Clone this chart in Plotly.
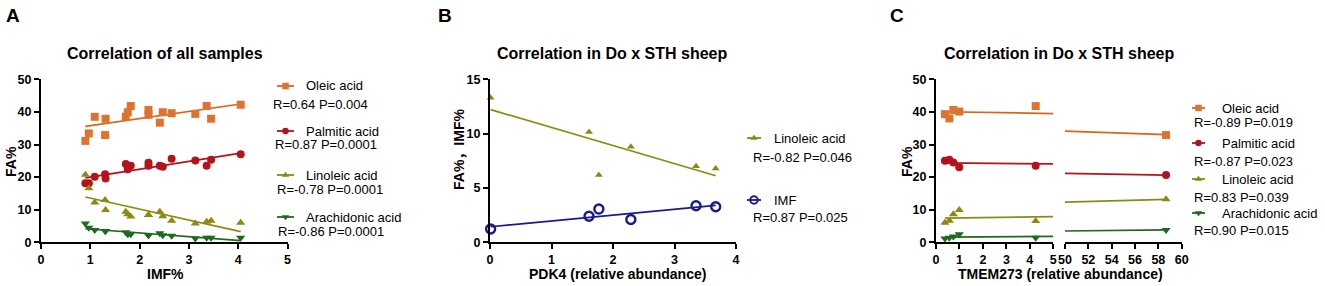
import numpy as np
import plotly.graph_objects as go

W, H = 1325, 286
FONT = "Liberation Sans, Arial, Noto Sans CJK SC, sans-serif"

# ---------------- data ----------------
# Panel A: correlation of all samples
imf_all = [0.90, 0.97, 1.09, 1.30, 1.31, 1.72, 1.76, 1.82, 2.18, 2.18, 2.41, 2.47, 2.65, 3.13, 3.36, 3.45, 4.05]
oleic_all = [31.1, 33.4, 38.5, 32.9, 37.9, 38.5, 39.9, 41.8, 40.6, 39.1, 36.7, 39.9, 39.6, 39.4, 41.8, 37.9, 42.2]
palmitic_all = [18.1, 18.1, 20.1, 20.9, 19.6, 24.0, 22.4, 23.5, 24.4, 23.5, 23.5, 23.2, 25.6, 25.1, 23.5, 25.3, 27.0]
linoleic_all = [20.7, 16.6, 12.2, 13.0, 9.9, 9.4, 8.6, 7.9, 8.4, 8.4, 9.4, 8.0, 6.6, 5.8, 6.3, 6.6, 6.0]
arachidonic_all = [5.8, 4.5, 3.8, 3.5, 3.5, 3.1, 2.5, 2.5, 2.2, 2.2, 2.8, 2.2, 2.0, 1.2, 1.4, 1.4, 1.4]

# Panel B: Do x STH sheep, PDK4
pdk4 = [0.01, 1.61, 1.77, 2.29, 3.35, 3.67]
linoleic_b = [13.3, 10.15, 6.2, 8.8, 7.0, 6.8]
imf_b = [1.22, 2.4, 3.06, 2.1, 3.36, 3.27]

# Panel C: Do x STH sheep, TMEM273
tmem273 = [0.38, 0.57, 0.74, 0.99, 4.25, 58.66]
oleic_c = [39.3, 38.0, 40.6, 40.1, 41.8, 32.9]
palmitic_c = [25.05, 25.3, 24.5, 23.0, 23.5, 20.65]
linoleic_c = [6.0, 6.6, 8.6, 9.9, 6.5, 13.2]
arachidonic_c = [1.2, 1.4, 1.8, 2.45, 1.4, 3.8]

series_names = ["Oleic acid", "Palmitic acid", "Linoleic acid", "Arachidonic acid"]
stats_a = ["R=0.64 P=0.004", "R=0.87 P=0.0001", "R=-0.78 P=0.0001", "R=-0.86 P=0.0001"]
stats_b = ["R=-0.82 P=0.046", "R=0.87 P=0.025"]
stats_c = ["R=-0.89 P=0.019", "R=-0.87 P=0.023", "R=0.83 P=0.039", "R=0.90 P=0.015"]

# ---------------- styles ----------------
COL = {
    "Oleic acid": ("#D9651C", "#DE7330", "square", 8),
    "Palmitic acid": ("#B3141C", "#B3141C", "circle", 8),
    "Linoleic acid": ("#8C8A12", "#8C8A12", "triangle-up", 8),
    "Arachidonic acid": ("#1B6B1E", "#1B6B1E", "triangle-down", 8),
    "IMF": ("#1A1A8C", "#1A1A8C", "circle-open", 9),
}


def px(x):
    return x / W


def py(y):
    return 1 - y / H


fig = go.Figure()


def add_points(x, y, name, xa, ya, size=None):
    line_c, mk_c, sym, sz = COL[name]
    size = size or sz
    mk = dict(symbol=sym, size=size, color=mk_c)
    if sym == "circle-open":
        mk = dict(symbol=sym, size=size, color=mk_c, line=dict(width=2.4, color=mk_c))
    fig.add_trace(go.Scatter(x=x, y=y, mode="markers", marker=mk, xaxis=xa, yaxis=ya,
                             showlegend=False, cliponaxis=False, hoverinfo="skip"))


def add_fit(x, y, name, segments):
    line_c = COL[name][0]
    k, b = np.polyfit(np.asarray(x, float), np.asarray(y, float), 1)
    for (lo, hi, xa, ya) in segments:
        xs = np.array([lo, hi])
        fig.add_trace(go.Scatter(x=xs, y=k * xs + b, mode="lines",
                                 line=dict(color=line_c, width=1.7), xaxis=xa, yaxis=ya,
                                 showlegend=False, hoverinfo="skip"))


# Panel A
for name, vals in zip(series_names, [oleic_all, palmitic_all, linoleic_all, arachidonic_all]):
    add_fit(imf_all, vals, name, [(min(imf_all), max(imf_all), "x", "y")])
    add_points(imf_all, vals, name, "x", "y")

# Panel B
add_fit(pdk4, linoleic_b, "Linoleic acid", [(min(pdk4), max(pdk4), "x2", "y2")])
add_points(pdk4, linoleic_b, "Linoleic acid", "x2", "y2", size=7)
add_fit(pdk4, imf_b, "IMF", [(min(pdk4), max(pdk4), "x2", "y2")])
add_points(pdk4, imf_b, "IMF", "x2", "y2")

# Panel C (broken x axis)
tm = np.array(tmem273)
left = tm <= 5
right = tm >= 50
for name, vals in zip(series_names, [oleic_c, palmitic_c, linoleic_c, arachidonic_c]):
    v = np.array(vals)
    add_fit(tmem273, vals, name, [(tm.min(), 5, "x3", "y3"), (50, tm.max(), "x4", "y3")])
    add_points(tm[left], v[left], name, "x3", "y3")
    add_points(tm[right], v[right], name, "x4", "y3")


# Legend symbols on an overlay pixel axis
def legend_symbol(x0, x1, yc, name, size=6.5):
    line_c, mk_c, sym, _ = COL[name]
    xm = (x0 + x1) / 2
    fig.add_trace(go.Scatter(x=[x0, x1], y=[yc, yc], mode="lines", line=dict(color=line_c, width=1.8),
                             xaxis="x5", yaxis="y5", showlegend=False, hoverinfo="skip"))
    mk = dict(symbol=sym, size=size, color=mk_c)
    if sym == "circle-open":
        mk = dict(symbol=sym, size=7.5, color=mk_c, line=dict(width=2, color=mk_c))
    fig.add_trace(go.Scatter(x=[xm], y=[yc], mode="markers", marker=mk,
                             xaxis="x5", yaxis="y5", showlegend=False, hoverinfo="skip"))


annotations = []


def text(x, y, s, size=13, bold=False, xanchor="left", angle=0):
    annotations.append(dict(x=px(x), y=py(y), xref="paper", yref="paper", text=s, showarrow=False,
                            xanchor=xanchor, yanchor="middle", textangle=angle, borderpad=0,
                            font=dict(family=FONT, size=size, color="black",
                                      weight="bold" if bold else "normal")))


# Legend A
leg_a_y = [86, 131, 175, 217]
leg_a_r = [(272, 104), (274, 144), (276, 189), (277, 231)]
for name, yy, (rx, ry), st in zip(series_names, leg_a_y, leg_a_r, stats_a):
    legend_symbol(277, 294, yy, name)
    text(305, yy, name)
    text(rx, ry, st)

# Legend B
legend_symbol(747, 761, 138, "Linoleic acid")
text(773, 138, "Linoleic acid")
text(752, 157, stats_b[0])
legend_symbol(747, 761, 200, "IMF")
text(773, 200, "IMF")
text(752, 218, stats_b[1])

# Legend C
leg_c_y = [108, 143, 179, 213]
leg_c_r = [123, 161, 197, 230]
for name, yy, ry, st in zip(series_names, leg_c_y, leg_c_r, stats_c):
    legend_symbol(1192, 1205, yy, name)
    text(1221, yy, name)
    text(1193, ry, st)

# Titles, panel letters, axis titles
text(13, 16, "A", size=19, bold=True, xanchor="center")
text(445, 16, "B", size=19, bold=True, xanchor="center")
text(897, 16, "C", size=19, bold=True, xanchor="center")
text(165, 54, "Correlation of all samples", size=16, bold=True, xanchor="center")
text(612, 54, "Correlation in Do x STH sheep", size=16, bold=True, xanchor="center")
text(1059, 54, "Correlation in Do x STH sheep", size=16, bold=True, xanchor="center")
text(165, 274, "IMF%", size=14, bold=True, xanchor="center")
text(617, 274, "PDK4 (relative abundance)", size=14, bold=True, xanchor="center")
text(1060, 274, "TMEM273 (relative abundance)", size=14, bold=True, xanchor="center")
text(11, 162, "FA%", size=14, bold=True, xanchor="center", angle=-90)
text(459, 150, "FA%，IMF%", size=14, bold=True, xanchor="center", angle=-90)
text(907, 162, "FA%", size=14, bold=True, xanchor="center", angle=-90)

axis_style = dict(showline=True, linecolor="black", linewidth=2, ticks="outside", ticklen=5,
                  tickwidth=2, tickcolor="black", showgrid=False, zeroline=False, fixedrange=True,
                  tickfont=dict(family=FONT, size=12.5, color="black", weight="bold"))

Y0, Y1 = py(242.3), py(79.3)
fig.update_layout(
    width=W, height=H, margin=dict(l=0, r=0, t=0, b=0, autoexpand=False),
    paper_bgcolor="white", plot_bgcolor="rgba(0,0,0,0)", showlegend=False,
    xaxis=dict(domain=[px(41), px(287.5)], range=[0, 5], dtick=1, anchor="y", **axis_style),
    yaxis=dict(domain=[Y0, Y1], range=[0, 50], dtick=10, anchor="x", **axis_style),
    xaxis2=dict(domain=[px(490), px(736)], range=[0, 4], dtick=1, anchor="y2", **axis_style),
    yaxis2=dict(domain=[Y0, Y1], range=[0, 15], dtick=5, anchor="x2", **axis_style),
    xaxis3=dict(domain=[px(936), px(1053.3)], range=[0, 5], dtick=1, anchor="y3", **axis_style),
    xaxis4=dict(domain=[px(1065), px(1181.7)], range=[50, 60], dtick=2, anchor="y3", **axis_style),
    yaxis3=dict(domain=[Y0, Y1], range=[0, 50], dtick=10, anchor="x3", **axis_style),
    xaxis5=dict(domain=[0, 1], range=[0, W], visible=False, anchor="y5", fixedrange=True),
    yaxis5=dict(domain=[0, 1], range=[H, 0], visible=False, anchor="x5", fixedrange=True),
    annotations=annotations,
)

fig.write_html("out.html", config={"displayModeBar": False},
               post_script="document.body.style.margin='0';document.body.style.overflow='hidden';")
